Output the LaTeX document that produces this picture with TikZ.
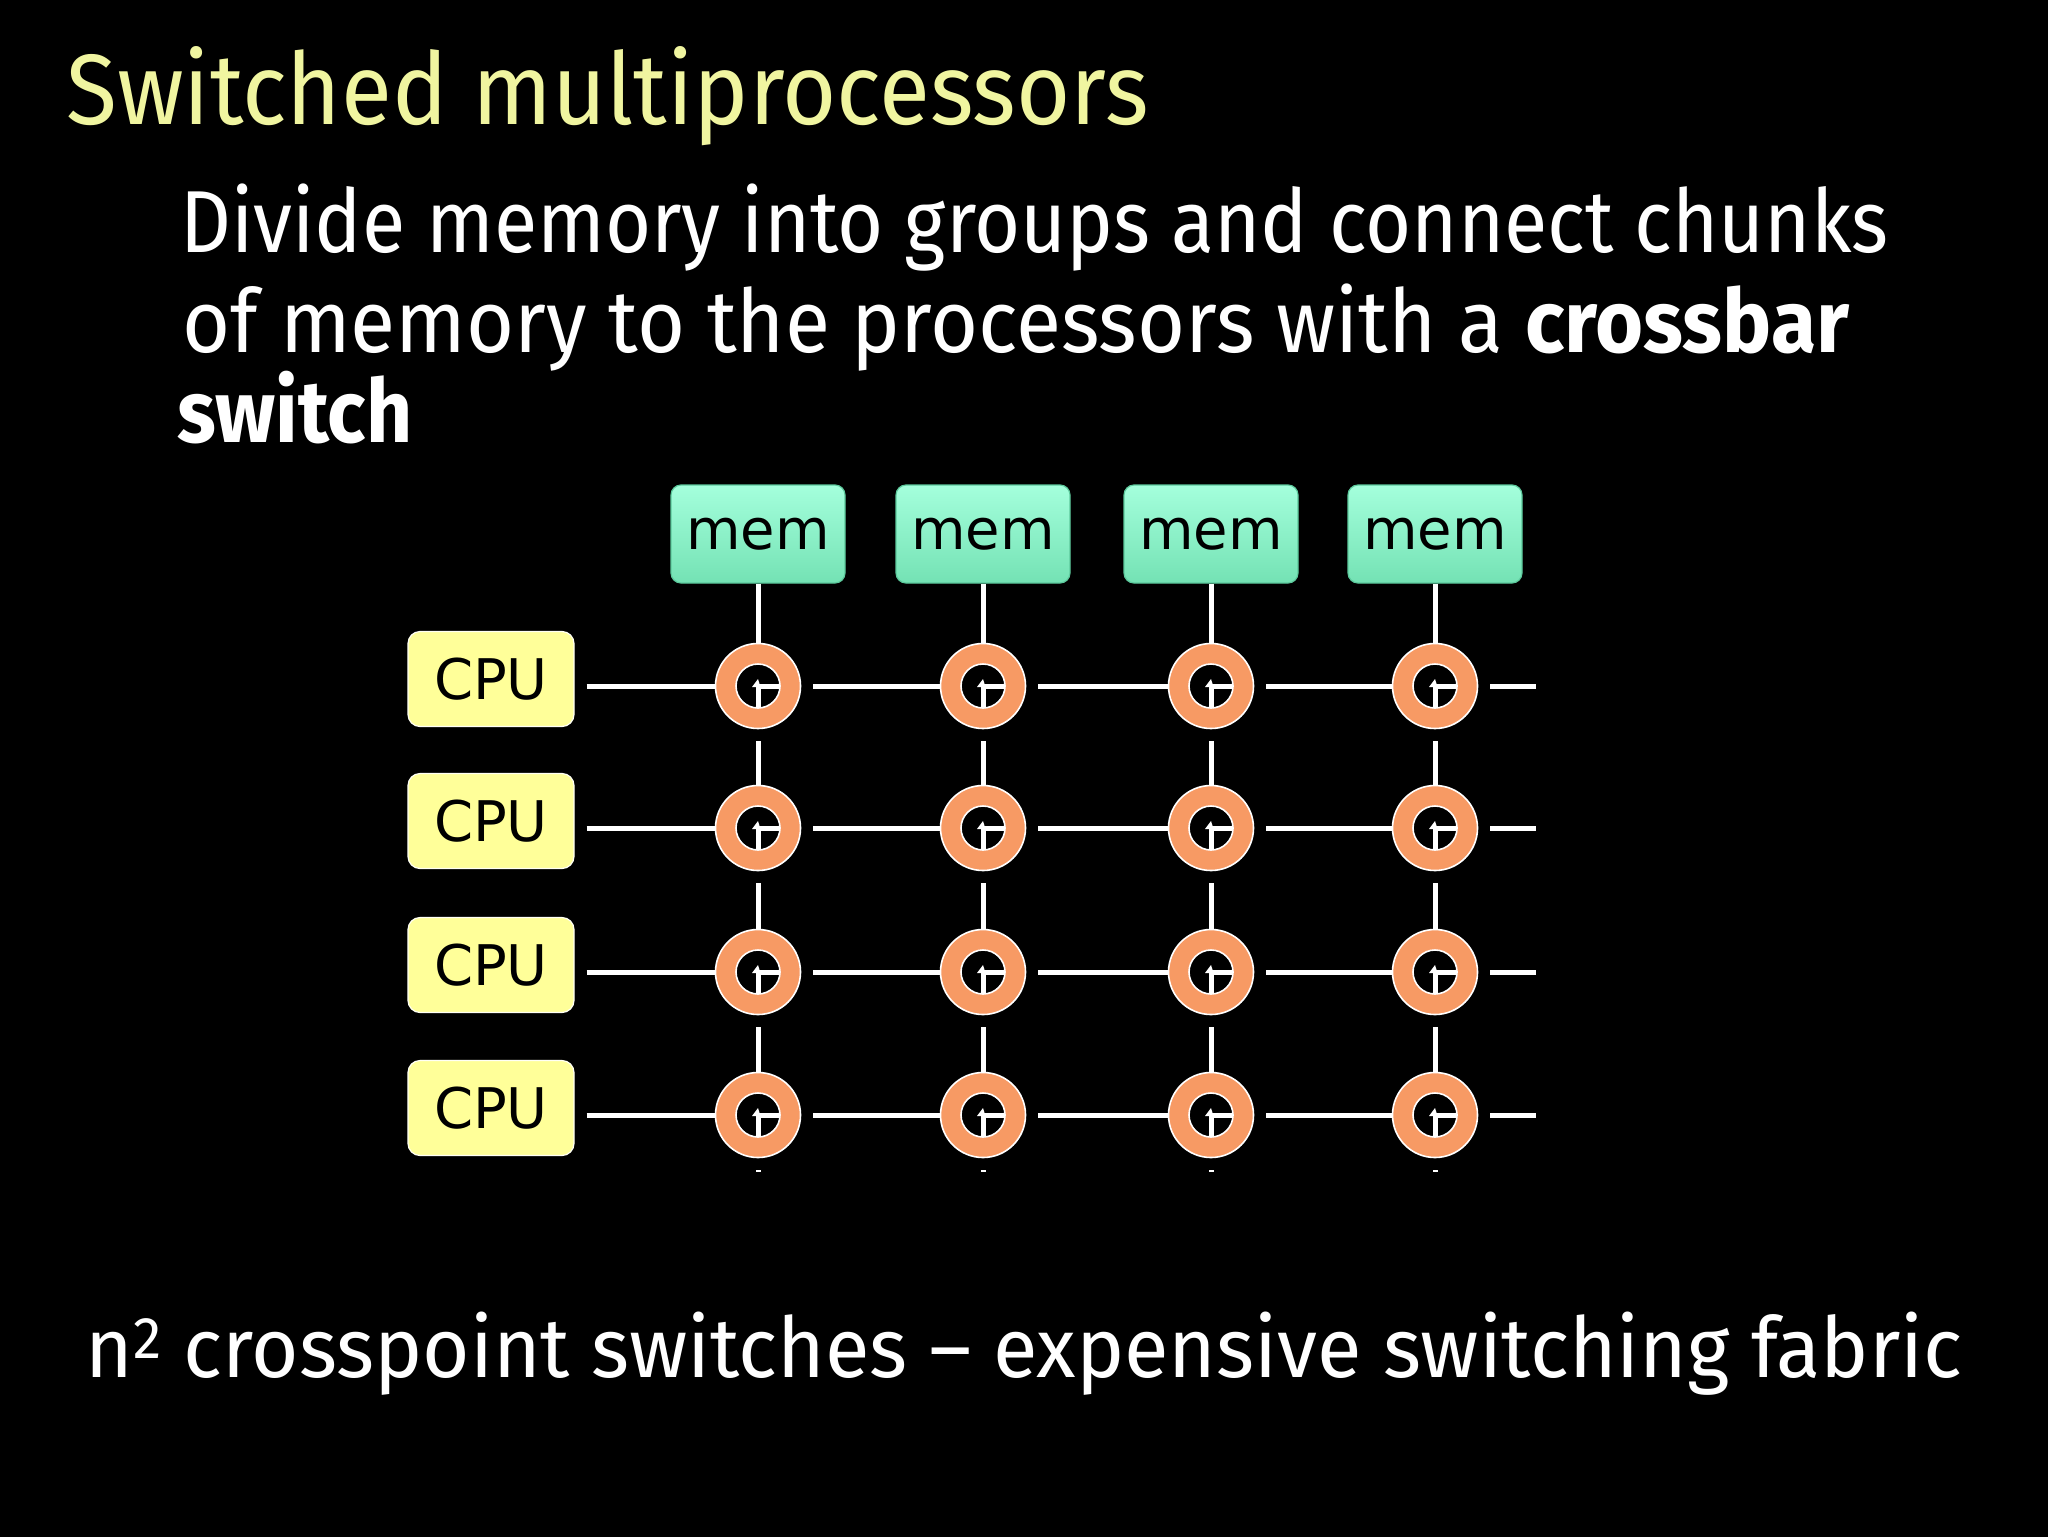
\documentclass[tikz,border=0pt]{standalone}
\usepackage{fontspec}
\usepackage{graphicx}
\setmainfont{Fira Sans}
\newfontfamily\boxfont{DejaVu Sans}
\usetikzlibrary{arrows.meta}
\definecolor{titleyellow}{HTML}{F0F5A0}
\definecolor{cpuyellow}{HTML}{FFFF99}
\definecolor{memtop}{HTML}{A4FFDC}
\definecolor{membot}{HTML}{74E2B4}
\definecolor{memedge}{HTML}{5CC99C}
\definecolor{ringorange}{HTML}{F79A64}
\tikzset{
  txt/.style={anchor=base west, inner sep=0pt, text=white},
  wire/.style={draw=white, line width=2.5pt},
  membox/.style={rectangle, rounded corners=5pt, minimum width=87pt, minimum height=49pt,
    top color=memtop, bottom color=membot, draw=memedge, line width=0.6pt,
    font=\boxfont\fontsize{28}{30}\selectfont, text=black, inner sep=0pt},
  cpubox/.style={rectangle, rounded corners=6pt, minimum width=83pt, minimum height=47.5pt,
    fill=cpuyellow, draw=white!90!cpuyellow, line width=0.6pt,
    font=\boxfont\fontsize{28}{30}\selectfont, text=black, inner sep=0pt},
  ring/.style={circle, minimum size=42.5pt, inner sep=0pt, fill=ringorange, draw=white, line width=0.8pt,
    path picture={
      \coordinate (pc) at (path picture bounding box.center);
      \fill[black] (pc) circle[radius=11pt];
      \draw[white, line width=0.8pt] (pc) circle[radius=11pt];
      \draw[white, line width=2.5pt] (pc) -- ++(0pt,-11pt) (pc) -- ++(11pt,0pt);
      \fill[white] ([shift={(0pt,3.5pt)}]pc) -- ([shift={(-3pt,-0.5pt)}]pc) -- ([shift={(1.25pt,-0.5pt)}]pc) -- cycle;
    }}
}
\begin{document}
\begin{tikzpicture}[x=0.5pt,y=-0.5pt]
\useasboundingbox (0,0) rectangle (2048,1536);
\fill[black] (-10,-10) rectangle (2058,1546);

% texts
\node[txt, text=titleyellow, font=\fontsize{50}{60}\selectfont] (title) at (66,125)
  {\resizebox{541pt}{\height}{Switched multiprocessors}};
\node[txt, font=\fontsize{44}{52}\selectfont] (b1) at (180,252)
  {\resizebox{854pt}{\height}{Divide memory into groups and connect chunks}};
\node[txt, font=\fontsize{44}{52}\selectfont] (b2) at (182,352)
  {\resizebox{833.5pt}{\height}{of memory to the processors with a \textbf{crossbar}}};
\node[txt, font=\fontsize{44}{52}\selectfont] (b3) at (177,442)
  {\resizebox{117.5pt}{\height}{\textbf{switch}}};
\node[txt, font=\fontsize{42}{50}\selectfont] (foot) at (85,1377)
  {\resizebox{938.5pt}{\height}{n\textsuperscript{2} crosspoint switches – expensive switching fabric}};

% memory boxes
\foreach \c/\x in {1/758,2/983,3/1211,4/1435} {
  \node[membox] (m\c) at (\x,534) {mem};
}
% cpu boxes
\foreach \r/\y in {1/686,2/828,3/972,4/1115} {
  \node[cpubox] (cpu\r) at (491,\y-7) {CPU};
}
% crosspoint switches
\foreach \r/\y in {1/686,2/828,3/972,4/1115} {
  \foreach \c/\x in {1/758,2/983,3/1211,4/1435} {
    \node[ring] (s-\r-\c) at (\x,\y) {};
  }
}
% wires
\foreach \r/\y in {1/686,2/828,3/972,4/1115} {
  \draw[wire, shorten <=6pt] (cpu\r.east |- s-\r-1.west) -- (s-\r-1.west);
  \foreach \c/\d in {1/2,2/3,3/4} {
    \draw[wire, shorten <=6pt] (s-\r-\c.east) -- (s-\r-\d.west);
  }
  \coordinate (he\r) at (1536,\y);
  \draw[wire, shorten <=6pt] (s-\r-4.east) -- (he\r);
}
\foreach \c/\x in {1/758,2/983,3/1211,4/1435} {
  \draw[wire] (m\c.south) -- (s-1-\c.north);
  \foreach \r/\q in {1/2,2/3,3/4} {
    \draw[wire, shorten <=6pt] (s-\r-\c.south) -- (s-\q-\c.north);
  }
  \coordinate (ve\c) at (\x,1172);
  \draw[wire, shorten <=6pt] (s-4-\c.south) -- (ve\c);
}
\end{tikzpicture}
\end{document}
